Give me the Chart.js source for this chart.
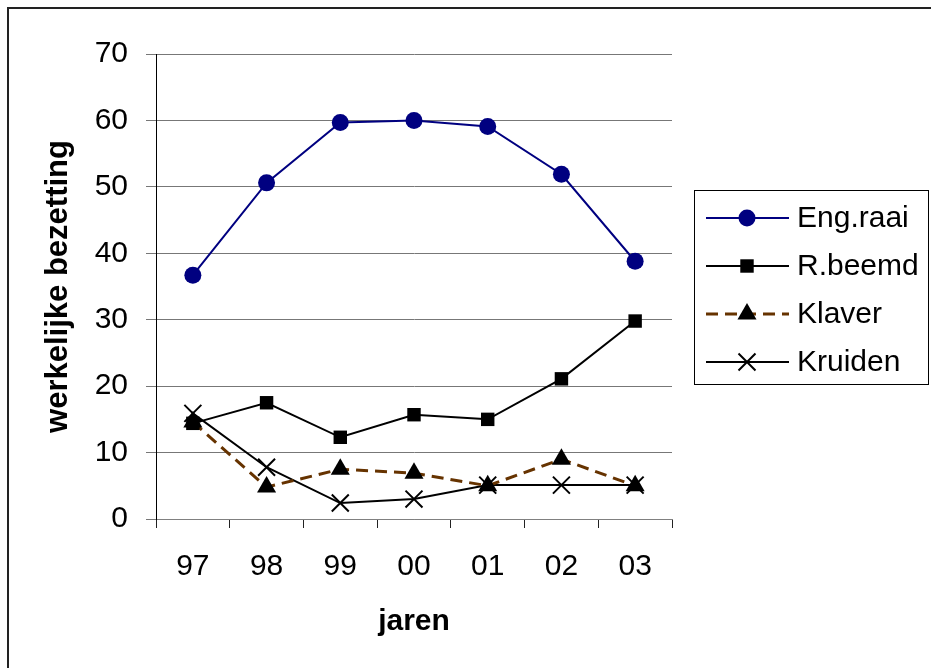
<!DOCTYPE html>
<html>
<head>
<meta charset="utf-8">
<script src="https://cdn.jsdelivr.net/npm/chart.js"></script>
<style>
html,body{margin:0;padding:0;background:#fff;}
canvas{display:block;}
</style>
</head>
<body>
<canvas id="c" width="931" height="668"></canvas>
<script>
const categories = ['97','98','99','00','01','02','03'];
const engRaai  = [36.7, 50.6, 59.7, 60.0, 59.1, 51.9, 38.8];
const rBeemd   = [14.4, 17.5, 12.3, 15.7, 15.0, 21.1, 29.8];
const klaver   = [14.6, 4.8, 7.5, 6.9, 5.0, 9.0, 5.0];
const kruiden  = [15.9, 7.8, 2.4, 3.0, 5.1, 5.1, 5.1];
const yTicks   = [0, 10, 20, 30, 40, 50, 60, 70];
const seriesNames = ['Eng.raai', 'R.beemd', 'Klaver', 'Kruiden'];
const xTitle = 'jaren';
const yTitle = 'werkelijke bezetting';

const FONT = '"Liberation Sans", Arial, sans-serif';

function drawMarker(ctx, style, x, y, r, color, bw) {
  ctx.save();
  ctx.fillStyle = color; ctx.strokeStyle = color;
  ctx.beginPath();
  if (style === 'circle') {
    ctx.arc(x, y, r, 0, Math.PI * 2); ctx.fill();
  } else if (style === 'rect') {
    const s = Math.SQRT1_2 * r;
    ctx.rect(x - s, y - s, 2 * s, 2 * s); ctx.fill();
  } else if (style === 'triangle') {
    ctx.moveTo(x, y - r);
    ctx.lineTo(x + r * Math.sin(Math.PI / 3), y + r * 0.5);
    ctx.lineTo(x - r * Math.sin(Math.PI / 3), y + r * 0.5);
    ctx.closePath(); ctx.fill();
  } else if (style === 'crossRot') {
    const d = Math.SQRT1_2 * r;
    ctx.lineWidth = bw || 1.5;
    ctx.moveTo(x - d, y - d); ctx.lineTo(x + d, y + d);
    ctx.moveTo(x + d, y - d); ctx.lineTo(x - d, y + d);
    ctx.stroke();
  }
  ctx.restore();
}

const framePlugin = {
  id: 'frameAndLegend',
  beforeDraw(chart) {
    const ctx = chart.ctx;
    ctx.save();
    ctx.fillStyle = '#fff';
    ctx.fillRect(0, 0, chart.width, chart.height);
    ctx.strokeStyle = '#222';
    ctx.lineWidth = 2;
    ctx.beginPath();
    ctx.moveTo(8, chart.height + 2);
    ctx.lineTo(8, 8);
    ctx.lineTo(chart.width + 2, 8);
    ctx.stroke();
    ctx.restore();
  },
  afterDraw(chart) {
    const ctx = chart.ctx;
    ctx.save();
    ctx.strokeStyle = '#000';
    ctx.lineWidth = 1;
    ctx.strokeRect(694.5, 190.5, 234, 194);
    const rows = [218, 266, 314, 362];
    chart.data.datasets.forEach((ds, i) => {
      const y = rows[i];
      ctx.save();
      ctx.strokeStyle = ds.borderColor;
      ctx.lineWidth = ds.borderWidth;
      ctx.setLineDash(ds.borderDash || []);
      ctx.beginPath();
      ctx.moveTo(706, y); ctx.lineTo(789, y);
      ctx.stroke();
      ctx.restore();
      drawMarker(ctx, ds.pointStyle, 747, y, ds.pointRadius, ds.pointBackgroundColor, ds.pointBorderWidth);
      ctx.fillStyle = '#000';
      ctx.font = '30px ' + FONT;
      ctx.textBaseline = 'middle';
      ctx.textAlign = 'left';
      ctx.fillText(ds.label, 797, y + 1);
    });
    ctx.restore();
  }
};

new Chart(document.getElementById('c'), {
  type: 'line',
  data: {
    labels: categories,
    datasets: [
      { label: seriesNames[0], data: engRaai, borderColor: '#000080', backgroundColor: '#000080',
        pointBackgroundColor: '#000080', pointBorderColor: '#000080', borderWidth: 2,
        pointStyle: 'circle', pointRadius: 8.5, pointBorderWidth: 0, tension: 0, clip: false },
      { label: seriesNames[1], data: rBeemd, borderColor: '#000000', backgroundColor: '#000000',
        pointBackgroundColor: '#000000', pointBorderColor: '#000000', borderWidth: 2,
        pointStyle: 'rect', pointRadius: 9.5, pointBorderWidth: 0, tension: 0, clip: false },
      { label: seriesNames[2], data: klaver, borderColor: '#663300', backgroundColor: '#000000',
        pointBackgroundColor: '#000000', pointBorderColor: '#000000', borderWidth: 3, borderDash: [12, 7],
        pointStyle: 'triangle', pointRadius: 11, pointBorderWidth: 0, tension: 0, clip: false },
      { label: seriesNames[3], data: kruiden, borderColor: '#000000', backgroundColor: '#000000',
        pointBackgroundColor: '#000000', pointBorderColor: '#000000', borderWidth: 2,
        pointStyle: 'crossRot', pointRadius: 12, pointBorderWidth: 2, tension: 0, clip: false }
    ]
  },
  options: {
    responsive: false,
    animation: false,
    events: [],
    layout: { padding: { left: 0, top: 54, right: 259, bottom: 0 } },
    plugins: { legend: { display: false }, tooltip: { enabled: false }, title: { display: false } },
    scales: {
      x: {
        type: 'category',
        offset: true,
        afterFit(s) { s.height = 149; },
        grid: { offset: true, drawOnChartArea: false, drawTicks: true, tickLength: 9, color: '#222', lineWidth: 1 },
        border: { display: true, color: '#808080', width: 1 },
        ticks: { color: '#000', font: { family: FONT, size: 30 }, padding: 21, maxRotation: 0, autoSkip: false },
        title: { display: true, text: xTitle, color: '#000', font: { family: FONT, size: 30, weight: 'bold' }, padding: { top: 0, bottom: 28 } }
      },
      y: {
        min: 0, max: 70,
        afterFit(s) { s.width = 156; },
        afterBuildTicks(s) { s.ticks = yTicks.map(v => ({ value: v })); },
        grid: { color: '#777', lineWidth: 1, drawTicks: true, tickLength: 10 },
        border: { display: true, color: '#000', width: 1 },
        ticks: { color: '#000', font: { family: FONT, size: 30 }, padding: 18 },
        title: { display: true, text: yTitle, color: '#000', font: { family: FONT, size: 31, weight: 'bold' }, padding: { top: 40, bottom: 0 } }
      }
    }
  },
  plugins: [framePlugin]
});
</script>
</body>
</html>
